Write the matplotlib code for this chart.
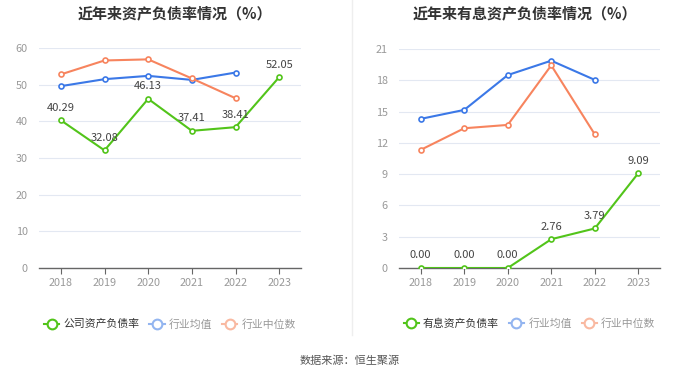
import matplotlib
matplotlib.use("Agg")
import matplotlib.pyplot as plt
from matplotlib.lines import Line2D

plt.rcParams['font.family'] = ['Noto Sans CJK SC', 'DejaVu Sans']

years = ['2018', '2019', '2020', '2021', '2022', '2023']

left_company = [40.29, 32.08, 46.13, 37.41, 38.41, 52.05]
left_avg = [49.6, 51.5, 52.4, 51.3, 53.3]
left_median = [52.8, 56.6, 56.9, 51.7, 46.3]

right_company = [0.00, 0.00, 0.00, 2.76, 3.79, 9.09]
right_avg = [14.3, 15.16, 18.5, 19.88, 18.04]
right_median = [11.33, 13.4, 13.72, 19.43, 12.82]

left_title = '近年来资产负债率情况（%）'
right_title = '近年来有息资产负债率情况（%）'
left_legend = ['公司资产负债率', '行业均值', '行业中位数']
right_legend = ['有息资产负债率', '行业均值', '行业中位数']
source_text = '数据来源：恒生聚源'

GREEN = '#52c41a'
BLUE = '#3b78e7'
ORANGE = '#f7845e'
BLUE_L = '#93b5f0'
ORANGE_L = '#f9b9a1'
GRID = '#e3e8f2'
TICK = '#999999'

fig = plt.figure(figsize=(7, 3.78), dpi=100)
W, H = 700, 378


def make_axes(x0, x1, ytop, ybot):
    return fig.add_axes([x0 / W, 1 - ybot / H, (x1 - x0) / W, (ybot - ytop) / H])


def draw(ax, company, avg, median, ymax, ystep, title, legend_labels, title_x):
    x = list(range(len(years)))
    ax.plot(x[:len(avg)], avg, color=BLUE, lw=1.5, marker='o', ms=3.6,
            mfc='white', mec=BLUE, mew=1.2, zorder=3)
    ax.plot(x[:len(median)], median, color=ORANGE, lw=1.5, marker='o', ms=3.6,
            mfc='white', mec=ORANGE, mew=1.2, zorder=3)
    ax.plot(x, company, color=GREEN, lw=1.5, marker='o', ms=3.6,
            mfc='white', mec=GREEN, mew=1.2, zorder=4)
    for xi, v in zip(x, company):
        ax.annotate(f'{v:.2f}', (xi, v), xytext=(0, 5.5), textcoords='offset points',
                    ha='center', va='bottom', fontsize=8, color='#444444', zorder=5)
    ax.set_xlim(-0.5, len(years) - 0.5)
    ax.set_ylim(0, ymax)
    ticks = list(range(0, ymax + 1, ystep))
    ax.set_yticks(ticks)
    ax.set_xticks(x)
    ax.set_xticklabels(years)
    ax.tick_params(axis='y', length=0, labelsize=7.8, labelcolor=TICK, pad=8)
    ax.tick_params(axis='x', length=4, color='#666666', labelsize=7.8, labelcolor=TICK, pad=3)
    ax.grid(axis='y', color=GRID, lw=0.8)
    ax.set_axisbelow(True)
    for s in ['top', 'right', 'left']:
        ax.spines[s].set_visible(False)
    ax.spines['bottom'].set_color('#666666')
    ax.spines['bottom'].set_linewidth(1)
    fig.text(title_x / W, 1 - 13 / H, title, ha='center', va='center',
             fontsize=10.8, fontweight='bold', color='#333333')
    handles = [
        Line2D([0], [0], color=GREEN, lw=1.5, marker='o', ms=7, mfc='white', mec=GREEN, mew=1.5),
        Line2D([0], [0], color=BLUE_L, lw=1.5, marker='o', ms=7, mfc='white', mec=BLUE_L, mew=1.5),
        Line2D([0], [0], color=ORANGE_L, lw=1.5, marker='o', ms=7, mfc='white', mec=ORANGE_L, mew=1.5),
    ]
    leg = ax.legend(handles, legend_labels, loc='center', bbox_to_anchor=(0.5, -0.255),
                    ncol=3, frameon=False, fontsize=7.8, handlelength=1.4,
                    handletextpad=0.4, columnspacing=0.9)
    for t, c in zip(leg.get_texts(), ['#333333', TICK, TICK]):
        t.set_color(c)


ax1 = make_axes(39, 301, 48, 268)
draw(ax1, left_company, left_avg, left_median, 60, 10, left_title, left_legend, 175)

ax2 = make_axes(399, 660, 49, 268)
draw(ax2, right_company, right_avg, right_median, 21, 3, right_title, right_legend, 525)

fig.add_artist(Line2D([352 / W, 352 / W], [1 - 335 / H, 1 - 0 / H], color='#eeeeee', lw=1))

fig.text(350 / W, 1 - 361 / H, source_text, ha='center', va='center', fontsize=8, color='#555555')

fig.savefig('out.png', dpi=100, facecolor='white')
